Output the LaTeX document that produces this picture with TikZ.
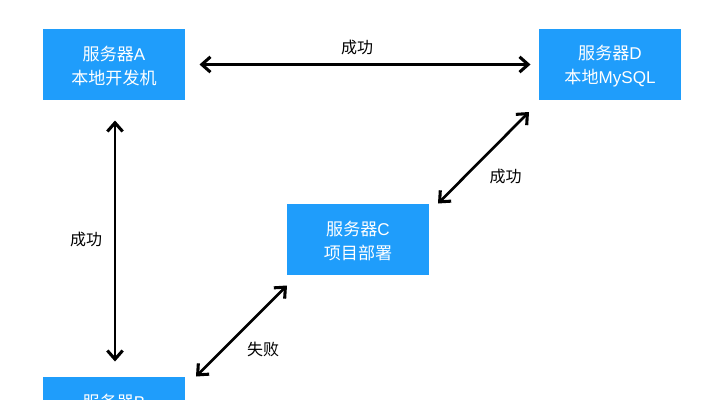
\documentclass[tikz,border=0pt]{standalone}
\usepackage{fontspec}
\setmainfont{Noto Sans CJK SC}
\newfontfamily\latf{Liberation Sans}
\usetikzlibrary{arrows.meta}
\newcommand{\twolines}[2]{\rule{0pt}{12.8pt}#1\\#2}
\newcommand{\lt}[1]{{\latf #1}}
\definecolor{srvblue}{HTML}{1F9DFB}
\tikzset{
  px/.style={x=0.75pt,y=-0.75pt},
  srv/.style={fill=srvblue,text=white,minimum width=106.5pt,minimum height=53.25pt,inner sep=0pt,align=center,font=\fontsize{12.8pt}{18pt}\selectfont},
  lnk/.style={draw=black,line width=2pt,{Straight Barb[length=6.5pt,width=11.5pt,line width=2.3pt]}-{Straight Barb[length=6.5pt,width=11.5pt,line width=2.3pt]}},
  lab/.style={text=black,font=\fontsize{12pt}{14pt}\selectfont,inner sep=0pt}
}
\begin{document}
\begin{tikzpicture}[px]
\useasboundingbox (0,0) rectangle (715,400);
\clip (0,0) rectangle (715,400);
\node[srv] (a) at (114,64.5) {\twolines{服务器\lt{A}}{本地开发机}};
\node[srv] (d) at (610,64.5) {\twolines{服务器\lt{D}}{本地\lt{MySQL}}};
\node[srv] (c) at (358,239.5) {\twolines{服务器\lt{C}}{项目部署}};
\node[srv] (b) at (114,412.5) {\twolines{服务器\lt{B}}{\phantom{项目}}};
\coordinate (ae) at (199.5,64.5);
\coordinate (dw) at (530.5,64.5);
\coordinate (an) at (115,120.5);
\coordinate (bn) at (115,361.5);
\coordinate (cu) at (438,203.5);
\coordinate (du) at (529,112);
\coordinate (bu) at (196,376.5);
\coordinate (cd) at (287,285.5);
\draw[lnk] (ae) -- (dw);
\draw[lnk] (an) -- (bn);
\draw[lnk] (cu) -- (du);
\draw[lnk] (bu) -- (cd);
\node[lab] (l1) at (357,47) {成功};
\node[lab] (l2) at (86,239) {成功};
\node[lab] (l3) at (505.5,176) {成功};
\node[lab] (l4) at (263,349) {失败};
\end{tikzpicture}
\end{document}
